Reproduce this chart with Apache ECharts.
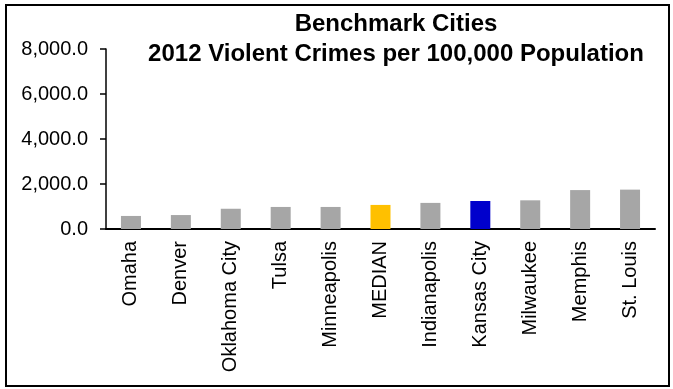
<!DOCTYPE html>
<html>
<head>
<meta charset="utf-8">
<title>Benchmark Cities</title>
<script src="https://cdn.jsdelivr.net/npm/echarts@6/dist/echarts.min.js"></script>
<style>
    html, body { margin: 0; padding: 0; background: #fff; }
    #frame {
        position: absolute;
        left: 5px; top: 4px;
        width: 661px; height: 379px;
        border: 2px solid #000;
        pointer-events: none;
    }
    #chart { width: 673px; height: 389px; }
</style>
</head>
<body>
<div id="chart"></div>
<div id="frame"></div>
<script>
// 2012 violent crimes per 100,000 population
const cities = ['Omaha', 'Denver', 'Oklahoma City', 'Tulsa', 'Minneapolis', 'MEDIAN',
    'Indianapolis', 'Kansas City', 'Milwaukee', 'Memphis', 'St. Louis'];
const crimeRates = [580, 620, 900, 980, 980, 1070, 1160, 1245, 1275, 1730, 1750];
const yTicks = [0, 2000, 4000, 6000, 8000];

const FONT = '"Liberation Sans", Arial, sans-serif';

function barColor(name) {
    if (name === 'MEDIAN') return '#FFC000';
    if (name === 'Kansas City') return '#0000CC';
    return '#A6A6A6';
}

function fmt(v) {
    return Number(v).toLocaleString('en-US', { minimumFractionDigits: 1, maximumFractionDigits: 1 });
}

const chart = echarts.init(document.getElementById('chart'));

chart.setOption({
    animation: false,
    title: {
        text: 'Benchmark Cities\n2012 Violent Crimes per 100,000 Population',
        left: 391,
        top: 4,
        textAlign: 'center',
        textStyle: {
            fontFamily: FONT,
            fontSize: 24,
            fontWeight: 'bold',
            color: '#000',
            lineHeight: 30
        }
    },
    grid: {
        left: 106,
        right: 18,
        top: 49,
        bottom: 160
    },
    xAxis: {
        type: 'category',
        data: cities,
        axisLine: { lineStyle: { color: '#000', width: 2 } },
        axisTick: { show: false },
        axisLabel: {
            rotate: 90,
            interval: 0,
            margin: 12,
            fontFamily: FONT,
            fontSize: 20,
            color: '#000'
        }
    },
    yAxis: {
        type: 'value',
        min: yTicks[0],
        max: yTicks[yTicks.length - 1],
        interval: yTicks[1] - yTicks[0],
        splitLine: { show: false },
        axisLine: { show: true, lineStyle: { color: '#000', width: 1.5 } },
        axisTick: { show: true, length: 6, lineStyle: { color: '#000', width: 1.5 } },
        axisLabel: {
            margin: 18,
            fontFamily: FONT,
            fontSize: 20,
            color: '#000',
            formatter: fmt
        }
    },
    series: [{
        type: 'bar',
        barWidth: 20,
        data: crimeRates.map((v, i) => ({
            value: v,
            itemStyle: { color: barColor(cities[i]) }
        }))
    }]
});
</script>
</body>
</html>
